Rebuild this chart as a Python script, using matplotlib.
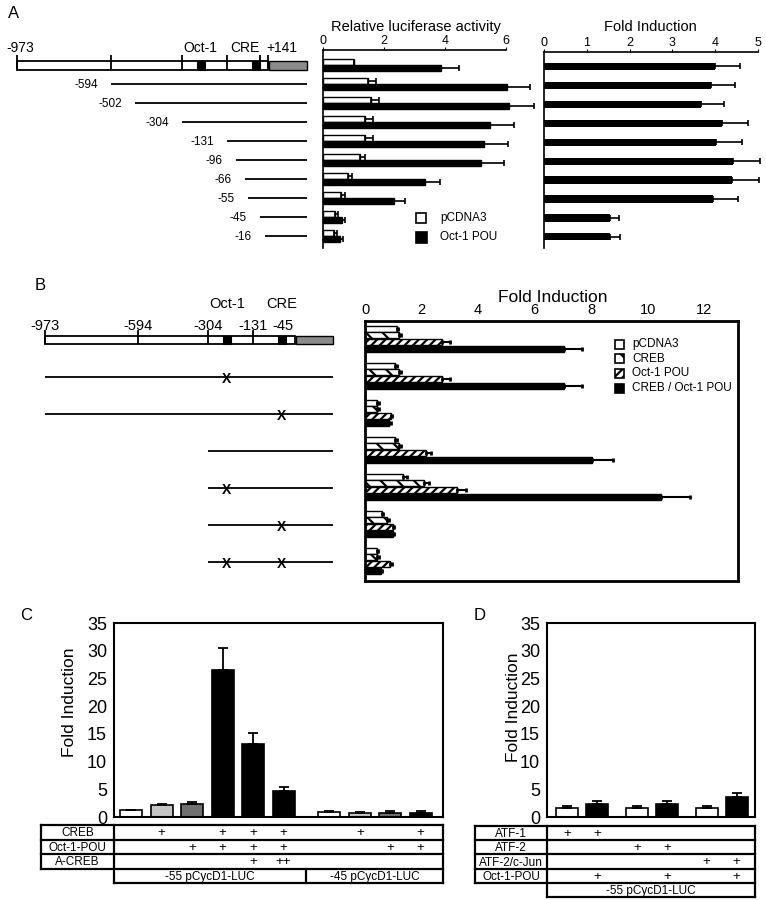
import numpy as np
import matplotlib
matplotlib.use('Agg')
import matplotlib.pyplot as plt
from matplotlib.patches import Rectangle

plt.rcParams['font.family'] = ['Liberation Sans', 'DejaVu Sans']
plt.rcParams['hatch.linewidth'] = 1.6

# ---------------- data ----------------
# panel A: 5' deletion constructs
A_start = [-973, -594, -502, -304, -131, -96, -66, -55, -45, -16]
luc_pcdna3 = [1.03, 1.49, 1.58, 1.39, 1.39, 1.20, 0.81, 0.59, 0.40, 0.37]
luc_pcdna3_err = [0.0, 0.24, 0.26, 0.25, 0.25, 0.19, 0.13, 0.13, 0.08, 0.09]
luc_oct = [3.88, 6.02, 6.10, 5.47, 5.28, 5.18, 3.35, 2.33, 0.62, 0.57]
luc_oct_err = [0.58, 0.78, 0.82, 0.80, 0.79, 0.75, 0.49, 0.36, 0.11, 0.07]
fold_A = [3.99, 3.90, 3.66, 4.16, 4.03, 4.42, 4.39, 3.96, 1.54, 1.54]
fold_A_err = [0.58, 0.57, 0.55, 0.61, 0.59, 0.62, 0.63, 0.57, 0.22, 0.23]

# panel B: site mutants
B_start = [-973, -973, -973, -304, -304, -304, -304]
B_oct_mut = [False, True, False, False, True, False, True]
B_cre_mut = [False, False, True, False, False, True, True]
B_names = ['pCDNA3', 'CREB', 'Oct-1 POU', 'CREB / Oct-1 POU']
b_pcdna3 = [1.12, 1.06, 0.44, 1.06, 1.35, 0.59, 0.41]
b_pcdna3_err = [0.06, 0.06, 0.06, 0.06, 0.14, 0.06, 0.06]
b_creb = [1.21, 1.21, 0.44, 1.21, 2.08, 0.79, 0.44]
b_creb_err = [0.05, 0.05, 0.05, 0.05, 0.18, 0.06, 0.05]
b_oct = [2.71, 2.71, 0.91, 2.15, 3.24, 0.98, 0.88]
b_oct_err = [0.29, 0.29, 0.06, 0.18, 0.32, 0.06, 0.08]
b_both = [7.04, 7.04, 0.86, 8.02, 10.49, 0.98, 0.55]
b_both_err = [0.63, 0.63, 0.06, 0.77, 1.00, 0.06, 0.06]

# panel C
C_vals = [1.2, 2.1, 2.3, 26.6, 13.2, 4.7, 0.9, 0.8, 0.8, 0.8]
C_err = [0.1, 0.3, 0.4, 3.9, 2.0, 0.7, 0.1, 0.15, 0.3, 0.3]
C_colors = ['white', '#c4c4c4', '#707070', 'black', 'black', 'black',
            'white', '#c4c4c4', '#707070', 'black']
C_rows = ['CREB', 'Oct-1-POU', 'A-CREB']
C_marks = [['', '+', '', '+', '+', '+', '', '+', '', '+'],
           ['', '', '+', '+', '+', '+', '', '', '+', '+'],
           ['', '', '', '', '+', '++', '', '', '', '']]
C_reporters = [('-55 pCycD1-LUC', 6), ('-45 pCycD1-LUC', 4)]

# panel D
D_vals = [1.7, 2.4, 1.7, 2.4, 1.6, 3.6]
D_err = [0.3, 0.4, 0.2, 0.4, 0.3, 0.7]
D_colors = ['white', 'black'] * 3
D_rows = ['ATF-1', 'ATF-2', 'ATF-2/c-Jun', 'Oct-1-POU']
D_marks = [['+', '+', '', '', '', ''],
           ['', '', '+', '+', '', ''],
           ['', '', '', '', '+', '+'],
           ['', '+', '', '+', '', '+']]
D_reporters = [('-55 pCycD1-LUC', 6)]

# ---------------- figure ----------------
W, H = 766, 900
fig = plt.figure(figsize=(W / 100, H / 100), dpi=100)

# overlay in pixel coordinates for schematics / tables
ov = fig.add_axes([0, 0, 1, 1])
ov.set_xlim(0, W)
ov.set_ylim(H, 0)
ov.axis('off')


def box(x0, y0, x1, y1):
    a = fig.add_axes([x0 / W, 1 - y1 / H, (x1 - x0) / W, (y1 - y0) / H])
    a.patch.set_visible(False)
    return a


def to_px(ax, x, y):
    dx, dy = ax.transData.transform((x, y))
    return dx, H - dy


K = dict(color='black', lw=1.3, solid_capstyle='butt')

# panel letters
ov.text(8, 13, 'A', fontsize=12, va='center')
ov.text(35, 285, 'B', fontsize=12, va='center')
ov.text(20, 615, 'C', fontsize=12, va='center')
ov.text(474, 615, 'D', fontsize=12, va='center')

# ---------------- A: luciferase ----------------
n = len(A_start)
rows = np.arange(n)
ax_luc = box(323, 50, 506, 248)
ax_luc.barh(rows - 0.17, luc_pcdna3, height=0.34, color='white', edgecolor='black', lw=1, clip_on=False)
ax_luc.barh(rows + 0.17, luc_oct, height=0.34, color='black', edgecolor='black', lw=1, clip_on=False)
ax_luc.errorbar(luc_pcdna3, rows - 0.17, xerr=[np.zeros(n), luc_pcdna3_err], fmt='none',
                ecolor='black', elinewidth=1.2, capsize=2.5, capthick=1.2, clip_on=False)
ax_luc.errorbar(luc_oct, rows + 0.17, xerr=[np.zeros(n), luc_oct_err], fmt='none',
                ecolor='black', elinewidth=1.2, capsize=2.5, capthick=1.2, clip_on=False)
ax_luc.set_xlim(0, 6)
ax_luc.set_ylim(9.63, -0.79)
ax_luc.xaxis.tick_top()
ax_luc.set_xticks([0, 2, 4, 6])
ax_luc.set_yticks([])
ax_luc.tick_params(axis='x', length=2, pad=0, labelsize=9)
for s in ['right', 'bottom']:
    ax_luc.spines[s].set_visible(False)
for s in ['top', 'left']:
    ax_luc.spines[s].set_linewidth(1.2)
ov.text(416, 27, 'Relative luciferase activity', ha='center', va='center', fontsize=10.5)

ov.add_patch(Rectangle((416, 213), 10, 10, facecolor='white', edgecolor='black', lw=1.2))
ov.add_patch(Rectangle((416, 232), 11, 11, facecolor='black', edgecolor='black', lw=1.2))
ov.text(440, 218, 'pCDNA3', va='center', fontsize=8.5)
ov.text(440, 237.5, 'Oct-1 POU', va='center', fontsize=8.5)

# ---------------- A: fold induction ----------------
ax_fa = box(544, 52, 758, 248)
ax_fa.barh(rows, fold_A, height=0.37, color='black', clip_on=False)
ax_fa.errorbar(fold_A, rows, xerr=[np.zeros(n), fold_A_err], fmt='none',
               ecolor='black', elinewidth=1.2, capsize=2.5, capthick=1.2, clip_on=False)
ax_fa.set_xlim(0, 5)
ax_fa.set_ylim(9.58, -0.74)
ax_fa.xaxis.tick_top()
ax_fa.set_xticks(range(6))
ax_fa.set_yticks([])
ax_fa.tick_params(axis='x', length=2, pad=0, labelsize=9)
for s in ['right', 'bottom']:
    ax_fa.spines[s].set_visible(False)
for s in ['top', 'left']:
    ax_fa.spines[s].set_linewidth(1.2)
ov.text(650, 27, 'Fold Induction', ha='center', va='center', fontsize=10.5)

# ---------------- A: construct schematic ----------------
A_anchor_nt = [-973, -594, -502, -304, -131, -96, -66, -55, -45, -16, 141]
A_anchor_px = [17, 111, 135, 182, 227, 236, 245, 248, 260, 265, 268]
OCT_NT, CRE_NT = -232, -48


def posA(nt):
    return np.interp(nt, A_anchor_nt, A_anchor_px)


def promoter_bar(pos, yc, ticks, luc_len=38, half=4.5):
    x0, x1 = pos(-973), pos(141)
    ov.add_patch(Rectangle((x0, yc - half), x1 - x0, 2 * half, facecolor='white', edgecolor='black', lw=1.3))
    ov.add_patch(Rectangle((x1 + 1, yc - half), luc_len, 2 * half, facecolor='#8a8a8a', edgecolor='black', lw=1.0))
    for t in ticks:
        ov.plot([pos(t), pos(t)], [yc - half - 6, yc + half], **K)
    for site in (OCT_NT, CRE_NT):
        xs = pos(site)
        ov.add_patch(Rectangle((xs - 4, yc - half), 8, 2 * half, facecolor='black', edgecolor='black', lw=0.8))
    return x1 + 1 + luc_len


yA = [to_px(ax_luc, 0, r)[1] for r in rows]
endA = promoter_bar(posA, yA[0], [-973, -594, -304, -131, -45, 141])
ov.text(posA(-973) + 3, yA[0] - 17, '-973', ha='center', va='center', fontsize=10)
ov.text(posA(OCT_NT), yA[0] - 17, 'Oct-1', ha='center', va='center', fontsize=10)
ov.text(posA(CRE_NT) - 12, yA[0] - 17, 'CRE', ha='center', va='center', fontsize=10)
ov.text(posA(141) + 14, yA[0] - 17, '+141', ha='center', va='center', fontsize=10)
for st, y in zip(A_start[1:], yA[1:]):
    ov.plot([posA(st), endA], [y, y], **K)
    ov.text(posA(st) - 13, y + 1, str(st), ha='right', va='center', fontsize=8.5)

# ---------------- B: bar chart ----------------
nb = len(b_pcdna3)
rb = np.arange(nb)
ax_b = box(365, 321, 738, 581)
offs = [-0.27, -0.09, 0.09, 0.27]
series = [(b_pcdna3, b_pcdna3_err, 'white', ''),
          (b_creb, b_creb_err, 'white', '\\\\'),
          (b_oct, b_oct_err, 'white', '////'),
          (b_both, b_both_err, 'black', '')]
for off, (v, e, c, h) in zip(offs, series):
    ax_b.barh(rb + off, v, height=0.16, color=c, edgecolor='black', hatch=h, lw=1)
    ax_b.errorbar(v, rb + off, xerr=[np.zeros(nb), e], fmt='none', ecolor='black',
                  elinewidth=1.5, capsize=1.5, capthick=2)
ax_b.set_xlim(0, 13.2)
ax_b.set_ylim(6.55, -0.48)
ax_b.xaxis.tick_top()
ax_b.set_xticks(range(0, 13, 2))
ax_b.set_yticks([])
ax_b.tick_params(axis='x', length=0, pad=3, labelsize=10.5)
for s in ax_b.spines.values():
    s.set_linewidth(2)
ov.text(553, 297, 'Fold Induction', ha='center', va='center', fontsize=12.5)

for i, (name, (v, e, c, h)) in enumerate(zip(B_names, series)):
    yl = 344 + 14.7 * i
    ov.add_patch(Rectangle((615, yl - 4.5), 9, 9, facecolor=c, edgecolor='black', hatch=h, lw=1.2))
    ov.text(632, yl, name, va='center', fontsize=8.5)

# ---------------- B: schematic ----------------
B_anchor_nt = [-973, -594, -304, -131, -45, 141]
B_anchor_px = [45, 138, 208, 253, 283, 295]


def posB(nt):
    return np.interp(nt, B_anchor_nt, B_anchor_px)


yB = [to_px(ax_b, 0, r)[1] + 1.5 for r in rb]
endB = promoter_bar(posB, yB[0], [-973, -594, -304, -131], luc_len=37, half=4)
for t in [-973, -594, -304, -131, -45]:
    ov.text(posB(t), yB[0] - 14, str(t), ha='center', va='center', fontsize=10.5)
ov.text(posB(OCT_NT), yB[0] - 36, 'Oct-1', ha='center', va='center', fontsize=10.5)
ov.text(posB(CRE_NT), yB[0] - 36, 'CRE', ha='center', va='center', fontsize=10.5)
for st, om, cm, y in zip(B_start[1:], B_oct_mut[1:], B_cre_mut[1:], yB[1:]):
    ov.plot([posB(st), endB], [y, y], **K)
    if om:
        ov.text(posB(OCT_NT), y + 2, 'X', ha='center', va='center', fontsize=10, fontweight='bold')
    if cm:
        ov.text(posB(CRE_NT), y + 2, 'X', ha='center', va='center', fontsize=10, fontweight='bold')


# ---------------- C / D ----------------
def column_chart(ax, pos, vals, errs, colors, width):
    ax.bar(pos, vals, width=width, color=colors, edgecolor='black', lw=1.2)
    ax.errorbar(pos, vals, yerr=[np.zeros(len(vals)), errs], fmt='none', ecolor='black',
                elinewidth=1.3, capsize=3.5, capthick=1.3)
    ax.set_ylim(0, 35)
    ax.set_yticks(range(0, 36, 5))
    ax.set_xticks([])
    ax.tick_params(axis='y', length=0, pad=5, labelsize=13)
    for s in ax.spines.values():
        s.set_linewidth(1.5)


def table(ax, pos, label_left, top, rh, names, marks, groups):
    bb = ax.get_position()
    xa, xb = bb.x0 * W, bb.x1 * W
    nr = len(names)
    tk = dict(color='black', lw=1.6, solid_capstyle='projecting')
    for r in range(nr + 1):
        y = top + r * rh
        ov.plot([label_left, xb], [y, y], **tk)
    yb = top + (nr + 1) * rh
    ov.plot([xa, xb], [yb, yb], **tk)
    ov.plot([label_left, label_left], [top, top + nr * rh], **tk)
    ov.plot([xa, xa], [top, yb], **tk)
    ov.plot([xb, xb], [top, yb], **tk)
    for r, (name, row) in enumerate(zip(names, marks)):
        yc = top + (r + 0.5) * rh + 1
        ov.text((label_left + xa) / 2, yc, name, ha='center', va='center', fontsize=8.5)
        for p, m in zip(pos, row):
            if m:
                ov.text(to_px(ax, p, 0)[0], yc, m, ha='center', va='center', fontsize=9.5)
    yc = top + (nr + 0.5) * rh + 1
    start = 0
    edges = [xa]
    for name, cnt in groups:
        last = start + cnt - 1
        if last + 1 < len(pos):
            xe = (to_px(ax, pos[last], 0)[0] + to_px(ax, pos[last + 1], 0)[0]) / 2
            ov.plot([xe, xe], [yb - rh, yb], **tk)
        else:
            xe = xb
        ov.text((edges[-1] + xe) / 2, yc, name, ha='center', va='center', fontsize=8.5)
        edges.append(xe)
        start += cnt


# C
ax_c = box(114, 623, 443, 817)
c_pos = np.arange(len(C_vals)) + np.where(np.arange(len(C_vals)) >= 6, 0.5, 0.0)
column_chart(ax_c, c_pos, C_vals, C_err, C_colors, 0.72)
ax_c.set_xlim(-0.56, 10.23)
ov.text(70, 702, 'Fold Induction', rotation=90, ha='center', va='center', fontsize=12.5)
table(ax_c, c_pos, 41, 825, 14.5, C_rows, C_marks, C_reporters)

# D
ax_d = box(547, 623, 755, 817)
d_idx = np.arange(len(D_vals))
d_pos = d_idx + (d_idx // 2) * 0.33
column_chart(ax_d, d_pos, D_vals, D_err, D_colors, 0.72)
ax_d.set_xlim(-0.67, 6.27)
ov.text(513, 707, 'Fold Induction', rotation=90, ha='center', va='center', fontsize=12.5)
table(ax_d, d_pos, 475, 826, 14.2, D_rows, D_marks, D_reporters)

fig.savefig('out.png', dpi=100)
